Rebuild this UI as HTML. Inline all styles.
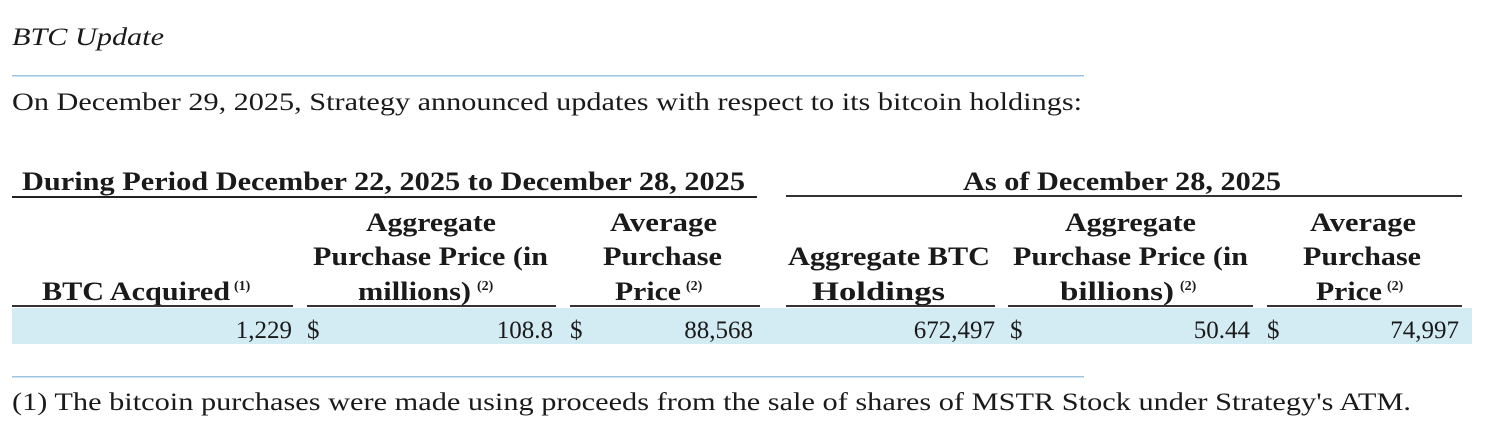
<!DOCTYPE html>
<html><head><meta charset="utf-8"><style>
html,body{margin:0;padding:0;background:#fff;width:1489px;height:429px;overflow:hidden}
svg{display:block}
text{font-family:"Liberation Serif",serif;fill:#1a1a1a}
.b{font-weight:bold}
</style></head><body>
<svg width="1489" height="429" viewBox="0 0 1489 429">
<text x="12" y="45" font-size="25" font-style="italic" textLength="152" lengthAdjust="spacingAndGlyphs">BTC Update</text>
<rect x="12" y="75" width="1072" height="1.5" fill="#9cc3e0"/>
<text x="12" y="110" font-size="25" textLength="1070" lengthAdjust="spacingAndGlyphs">On December 29, 2025, Strategy announced updates with respect to its bitcoin holdings:</text>

<text class="b" x="22" y="190" font-size="26" textLength="723" lengthAdjust="spacingAndGlyphs">During Period December 22, 2025 to December 28, 2025</text>
<rect x="12" y="196" width="745" height="2" fill="#222"/>
<text class="b" x="963" y="190" font-size="26" textLength="318" lengthAdjust="spacingAndGlyphs">As of December 28, 2025</text>
<rect x="786" y="195" width="676" height="2" fill="#333"/>

<rect x="12" y="308" width="1460" height="36" fill="#d3ebf3"/>

<g class="b" font-size="26">
<text x="42" y="300" textLength="188" lengthAdjust="spacingAndGlyphs">BTC Acquired</text><text x="234" y="290" font-size="14">(1)</text>
<text x="366" y="231" textLength="130" lengthAdjust="spacingAndGlyphs">Aggregate</text>
<text x="313" y="265" textLength="235" lengthAdjust="spacingAndGlyphs">Purchase Price (in</text>
<text x="358" y="300" textLength="113" lengthAdjust="spacingAndGlyphs">millions)</text><text x="477" y="290" font-size="14">(2)</text>
<text x="610" y="231" textLength="107" lengthAdjust="spacingAndGlyphs">Average</text>
<text x="603" y="265" textLength="119" lengthAdjust="spacingAndGlyphs">Purchase</text>
<text x="615" y="300" textLength="66" lengthAdjust="spacingAndGlyphs">Price</text><text x="686" y="290" font-size="14">(2)</text>
<text x="788" y="265" textLength="202" lengthAdjust="spacingAndGlyphs">Aggregate BTC</text>
<text x="812" y="300" textLength="133" lengthAdjust="spacingAndGlyphs">Holdings</text>
<text x="1065" y="231" textLength="131" lengthAdjust="spacingAndGlyphs">Aggregate</text>
<text x="1013" y="265" textLength="235" lengthAdjust="spacingAndGlyphs">Purchase Price (in</text>
<text x="1060" y="300" textLength="114" lengthAdjust="spacingAndGlyphs">billions)</text><text x="1180" y="290" font-size="14">(2)</text>
<text x="1310" y="231" textLength="106" lengthAdjust="spacingAndGlyphs">Average</text>
<text x="1303" y="265" textLength="118" lengthAdjust="spacingAndGlyphs">Purchase</text>
<text x="1316" y="300" textLength="66" lengthAdjust="spacingAndGlyphs">Price</text><text x="1387" y="290" font-size="14">(2)</text>
</g>
<g fill="#333">
<rect x="12" y="305" width="281" height="2"/><rect x="307" y="305" width="249" height="2"/><rect x="570" y="305" width="190" height="2"/>
<rect x="786" y="305" width="209" height="2"/><rect x="1008" y="305" width="245" height="2"/><rect x="1267" y="305" width="195" height="2"/>
</g>
<g font-size="25">
<text x="292" y="338" text-anchor="end">1,229</text>
<text x="307" y="338">$</text><text x="553" y="338" text-anchor="end">108.8</text>
<text x="570" y="338">$</text><text x="753" y="338" text-anchor="end">88,568</text>
<text x="995" y="338" text-anchor="end">672,497</text>
<text x="1010" y="338">$</text><text x="1250" y="338" text-anchor="end">50.44</text>
<text x="1267" y="338">$</text><text x="1459" y="338" text-anchor="end">74,997</text>
</g>
<rect x="12" y="376" width="1072" height="1.5" fill="#9cc3e0"/>
<text x="12" y="410" font-size="25" textLength="1399" lengthAdjust="spacingAndGlyphs">(1) The bitcoin purchases were made using proceeds from the sale of shares of MSTR Stock under Strategy's ATM.</text>
</svg>
</body></html>
